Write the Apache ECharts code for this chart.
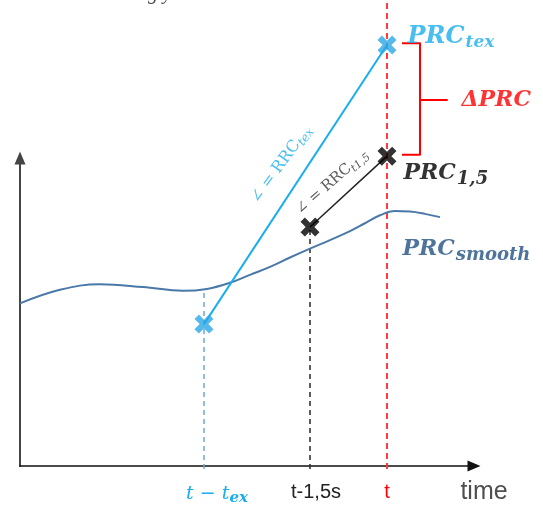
<!DOCTYPE html>
<html><head><meta charset="utf-8">
<script src="https://cdn.jsdelivr.net/npm/echarts@6/dist/echarts.min.js"></script>
<style>html,body{margin:0;padding:0;background:#fff}#c{width:543px;height:506px}</style>
</head><body><div id="c"></div>
<script>
// ---- data (time in s, PRC in arbitrary units) ----
const curveX = [0, 0.8, 1.6, 2.46, 3.26, 3.74, 4.2, 4.6, 5.0, 5.4, 5.8, 6.2, 6.6, 6.9, 7.2, 7.5, 7.8, 8.1, 8.4];
const curveY = [3.53, 3.82, 3.94, 3.88, 3.80, 3.84, 3.97, 4.14, 4.31, 4.51, 4.70, 4.88, 5.07, 5.24, 5.41, 5.50, 5.49, 5.44, 5.37];
const tickValues = [3.68, 5.80, 7.34];          // t - tex, t - 1.5 s, t
const tickNames = ['t − t_ex', 't-1,5s', 't'];
const prcTexPts = [[3.68, 3.09], [7.34, 9.04]];  // PRC(t-tex) -> PRC_tex
const prc15Pts = [[5.80, 5.16], [7.34, 6.67]];   // PRC(t-1.5) -> PRC_1,5
const smoothAtTex = 3.83;
const bracketPts = [[7.64, 9.08], [8.0, 9.08], [8.0, 7.87], [8.54, 7.87], [8.0, 7.87], [8.0, 6.70], [7.64, 6.70]];
const labelTexts = ['PRC|tex', 'ΔPRC', 'PRC|1,5', 'PRC|smooth', '∠ = RRC|tex', '∠ = RRC|t1,5', 'time', 'g y'];
const labelAnchors = [[7.74, 9.22], [8.82, 7.87], [7.66, 6.31], [7.64, 4.69], [5.22, 6.50], [6.24, 6.12], [9.28, -0.49], [2.8, 10.13]];

const CYAN = '#1aaeee', RED = '#ff0000', NAVY = '#235183';
const serif = 'DejaVu Serif';
const CROSS = 'path://M0,4.6 L4.6,0 L10,5.4 L15.4,0 L20,4.6 L14.6,10 L20,15.4 L15.4,20 L10,14.6 L4.6,20 L0,15.4 L5.4,10 Z';

function sub(main, s, mk, sk) { return '{' + mk + '|' + main + '}{' + sk + '|' + s + '}'; }
function split(t) { return t.split('|'); }

const richMain = (color, size, subSize) => ({
  m: { fontFamily: serif, fontStyle: 'italic', fontWeight: 'bold', fontSize: size, color: color },
  s: { fontFamily: serif, fontStyle: 'italic', fontWeight: 'bold', fontSize: subSize, color: color, padding: [12, 0, 0, 1] }
});
const richRot = (color, size) => ({
  m: { fontFamily: serif, fontSize: size, color: color },
  s: { fontFamily: serif, fontStyle: 'italic', fontSize: size - 4, color: color, padding: [9, 0, 0, 0] }
});

const labelStyles = [
  { position: 'right', rich: richMain(CYAN, 24, 17), sub: true },
  { position: 'right', rich: { m: { fontFamily: serif, fontStyle: 'italic', fontWeight: 'bold', fontSize: 22, color: RED } } },
  { position: 'right', rich: richMain('#000', 22, 18), sub: true },
  { position: 'right', rich: richMain(NAVY, 22, 18), sub: true },
  { position: 'inside', rotate: 54, rich: richRot(CYAN, 16), sub: true },
  { position: 'inside', rotate: 41, rich: richRot('#333', 15), sub: true },
  { position: 'inside', rich: { m: { fontFamily: 'Liberation Sans', fontSize: 25, color: '#222' } } },
  { position: 'inside', rich: { m: { fontFamily: 'Liberation Serif', fontStyle: 'italic', fontSize: 20, color: '#222' } } }
];

const annoData = labelAnchors.map((p, i) => {
  const st = labelStyles[i];
  const parts = split(labelTexts[i]);
  const text = st.sub ? sub(parts[0], parts[1], 'm', 's') : '{m|' + parts[0] + '}';
  return {
    value: p,
    label: { show: true, position: st.position, distance: 0, rotate: st.rotate || 0, formatter: text, rich: st.rich }
  };
});

const chart = echarts.init(document.getElementById('c'), null, { renderer: 'canvas' });
const gridL = 20, gridR = 69, gridB = 37;
const xMax = 9.08;

chart.setOption({
  animation: false,
  backgroundColor: '#fff',
  grid: [
    { left: gridL, right: gridR, top: 158, bottom: gridB },
    { left: gridL, right: gridR, top: 0, bottom: gridB }
  ],
  xAxis: [
    {
      gridIndex: 0, type: 'value', min: 0, max: xMax,
      axisLine: { show: true, symbol: ['none', 'triangle'], symbolSize: [11, 13], lineStyle: { color: '#111', width: 1.6 } },
      axisTick: { show: false }, splitLine: { show: false },
      axisLabel: {
        customValues: tickValues, margin: 16,
        formatter: function (v) {
          let i = tickValues.findIndex(t => Math.abs(t - v) < 1e-6);
          if (i === 0) return '{b|t − t}{bs|ex}';
          if (i === 1) return '{k|' + tickNames[1] + '}';
          if (i === 2) return '{r|' + tickNames[2] + '}';
          return '';
        },
        rich: {
          b: { fontFamily: serif, fontStyle: 'italic', fontSize: 19, color: CYAN, padding: [0, 0, 0, 26] },
          bs: { fontFamily: serif, fontStyle: 'italic', fontWeight: 'bold', fontSize: 15, color: CYAN, padding: [9, 0, 0, 0] },
          k: { fontFamily: 'Liberation Sans', fontSize: 20, color: '#222', padding: [0, 0, 0, 12] },
          r: { fontFamily: 'Liberation Sans', fontSize: 20, color: RED }
        }
      }
    },
    { gridIndex: 1, type: 'value', min: 0, max: xMax, show: false }
  ],
  yAxis: [
    {
      gridIndex: 0, type: 'value', min: 0, max: 1,
      axisLine: { show: true, symbol: ['none', 'triangle'], symbolSize: [11, 13], lineStyle: { color: '#444', width: 2 } },
      axisTick: { show: false }, axisLabel: { show: false }, splitLine: { show: false }
    },
    { gridIndex: 1, type: 'value', min: 0, max: 10, show: false }
  ],
  series: [
    { type: 'line', xAxisIndex: 1, yAxisIndex: 1, smooth: 0.4, symbol: 'none', z: 2,
      data: curveX.map((x, i) => [x, curveY[i]]), lineStyle: { color: '#4a78a8', width: 2 } },
    { type: 'line', xAxisIndex: 1, yAxisIndex: 1, symbol: 'none', z: 1,
      data: [[tickValues[0], 0], [tickValues[0], smoothAtTex]], lineStyle: { color: '#6fa3d8', width: 1.5, type: [5, 4] } },
    { type: 'line', xAxisIndex: 1, yAxisIndex: 1, symbol: 'none', z: 1,
      data: [[tickValues[1], 0], [tickValues[1], prc15Pts[0][1]]], lineStyle: { color: '#333', width: 1.6, type: [5, 4] } },
    { type: 'line', xAxisIndex: 1, yAxisIndex: 1, symbol: 'none', z: 1, clip: false,
      data: [[tickValues[2], 0], [tickValues[2], 10]], lineStyle: { color: '#ff3b3b', width: 2, type: [6, 4] } },
    { type: 'line', xAxisIndex: 1, yAxisIndex: 1, symbol: 'none', z: 3,
      data: prcTexPts, lineStyle: { color: CYAN, width: 2 } },
    { type: 'line', xAxisIndex: 1, yAxisIndex: 1, symbol: 'none', z: 3,
      data: prc15Pts, lineStyle: { color: '#222', width: 1.5 } },
    { type: 'line', xAxisIndex: 1, yAxisIndex: 1, symbol: 'none', z: 3,
      data: bracketPts, lineStyle: { color: RED, width: 2, join: 'round' } },
    { type: 'scatter', xAxisIndex: 1, yAxisIndex: 1, z: 5, symbol: CROSS,
      symbolSize: 19, itemStyle: { color: '#2aa8e6' }, data: prcTexPts },
    { type: 'scatter', xAxisIndex: 1, yAxisIndex: 1, z: 5, symbol: CROSS,
      symbolSize: 19, itemStyle: { color: '#000' }, data: prc15Pts },
    { type: 'scatter', xAxisIndex: 1, yAxisIndex: 1, z: 6, clip: false, silent: true,
      symbolSize: 1, itemStyle: { color: 'rgba(0,0,0,0)' }, data: annoData }
  ]
});
</script></body></html>
